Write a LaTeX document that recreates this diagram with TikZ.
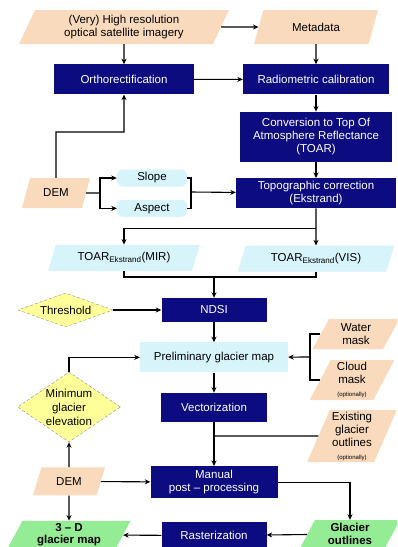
\documentclass[tikz,border=0pt]{standalone}
\usepackage{fontspec}
\setmainfont{Liberation Sans}
\usetikzlibrary{arrows.meta, positioning, shapes.geometric, calc}

\definecolor{procblue}{RGB}{12,12,128}
\definecolor{peach}{RGB}{250,218,188}
\definecolor{paleblue}{RGB}{214,244,250}
\definecolor{paleyellow}{RGB}{255,255,153}
\definecolor{palegreen}{RGB}{148,236,148}

\newcommand{\optnote}{{\fontsize{6}{7}\selectfont(optionally)}}

\begin{document}
\begin{tikzpicture}[
  x=1pt, y=-1pt,
  every node/.style={font=\fontsize{11.5}{13}\selectfont, align=center, inner sep=1pt},
  proc/.style={rectangle, fill=procblue, text=white},
  datain/.style={trapezium, trapezium left angle=67, trapezium right angle=113,
                 trapezium stretches=true, fill=peach},
  inter/.style={datain, fill=paleblue},
  interbox/.style={rectangle, fill=paleblue},
  result/.style={datain, fill=palegreen, font=\fontsize{11.5}{12.5}\selectfont\bfseries},
  deriv/.style={rectangle, rounded corners=6pt, fill=paleblue},
  param/.style={diamond, fill=paleyellow, draw=black!45, densely dashed, inner sep=0pt},
  arrow/.style={-{Stealth[length=5.5pt,width=5pt]}, line width=1.1pt},
  link/.style={line width=1.1pt},
]
\useasboundingbox (0,0) rectangle (397,547);
\clip (0,0) rectangle (397,547);

% ---- inputs and pre-processing ----
\node[datain, minimum width=210pt, minimum height=34pt] (imagery) at (124,27)
  {(Very) High resolution\\optical satellite imagery};
\node[datain, minimum width=124pt, minimum height=34pt] (meta) at (316,27) {Metadata};

\node[proc, minimum width=140pt, minimum height=30pt, below=20pt of imagery] (ortho) {Orthorectification};
\node[proc, minimum width=146pt, minimum height=30pt, below=20pt of meta] (radio) {Radiometric calibration};
\node[proc, minimum width=152pt, minimum height=50pt, below=17pt of radio]
  (toar) {Conversion to Top Of\\Atmosphere Reflectance\\(TOAR)};
\node[proc, minimum width=160pt, minimum height=30pt, below=16pt of toar]
  (topo) {Topographic correction\\(Ekstrand)};

\node[datain, minimum width=68pt, minimum height=30pt] (demA) at (56,193) {DEM};
\node[deriv, minimum width=70pt, minimum height=17pt] (slope) at (152,178) {Slope};
\node[deriv, minimum width=70pt, minimum height=17pt, below=13pt of slope] (aspect) {Aspect};

\node[inter, minimum width=152pt, minimum height=26pt, below=150pt of ortho] (mir) {TOAR\textsubscript{Ekstrand}(MIR)};
\node[inter, minimum width=157pt, minimum height=26pt, below=37pt of topo] (vis) {TOAR\textsubscript{Ekstrand}(VIS)};

% ---- glacier mapping ----
\node[proc, minimum width=105pt, minimum height=24pt] (ndsi) at (214,310) {NDSI};
\node[param, aspect=2.8, minimum width=95pt, minimum height=34pt, left=48pt of ndsi] (thresh) {Threshold};
\node[interbox, minimum width=148pt, minimum height=30pt, below=20pt of ndsi] (prelim) {Preliminary glacier map};
\node[proc, minimum width=106pt, minimum height=29pt, below=20pt of prelim] (vector) {Vectorization};
\node[proc, minimum width=127pt, minimum height=32pt, below=44pt of vector] (manual) {Manual\\post -- processing};
\node[proc, minimum width=105pt, minimum height=28pt, below=23pt of manual] (raster) {Rasterization};

\node[datain, minimum width=87pt, minimum height=30pt] (water) at (356,334) {Water\\mask};
\node[datain, minimum width=85pt, minimum height=40pt] (cloud) at (352,380) {Cloud\\mask\\\optnote};
\node[datain, minimum width=90pt, minimum height=52pt] (exist) at (352,436) {Existing\\glacier\\outlines\\\optnote};

\node[param, aspect=1.5, inner sep=-2pt, minimum width=103pt, minimum height=70pt,
      font=\fontsize{11.5}{14}\selectfont] (mingl) at (69,407) {Minimum\\glacier\\elevation};
\node[datain, minimum width=72pt, minimum height=28pt, below=25pt of mingl] (demB) {DEM};
\node[result, minimum width=124pt, minimum height=28pt, below=25pt of demB] (map3d) {3 -- D\\glacier map};
\node[result, minimum width=100pt, minimum height=28pt] (outlines) at (350,534) {Glacier\\outlines};

% ---- bends and joins ----
\coordinate (bendA) at (124,132);
\coordinate (forkA) at (100,193);
\coordinate (joinA) at (191,192);
\coordinate (splitA) at ($(topo.south)+(0,-20pt)$);
\coordinate (joinB) at (214,277);
\coordinate (joinC) at (310,357);
\coordinate (joinD) at (214,436);

% ---- connectors ----
\draw[arrow] (imagery) -- (meta);
\draw[arrow] (imagery) -- (ortho);
\draw[arrow] (meta) -- (radio);
\draw[arrow] (ortho) -- (radio);
\draw[arrow] (radio) -- (toar);
\draw[arrow] (toar) -- (topo);
\draw[arrow] (demA) |- (bendA) -- (ortho);
\draw[link] (demA) -- (forkA);
\draw[arrow] (forkA) |- (slope);
\draw[arrow] (forkA) |- (aspect);
\draw[link] (slope) -| (joinA);
\draw[link] (aspect) -| (joinA);
\draw[arrow] (joinA) -- (topo);
\draw[arrow] (topo) -- (vis);
\draw[arrow] (splitA) -| (mir);
\draw[link] (mir) |- (joinB);
\draw[link] (vis) |- (joinB);
\draw[arrow] (joinB) -- (ndsi);
\draw[arrow] (thresh) -- (ndsi);
\draw[arrow] (ndsi) -- (prelim);
\draw[link] (water) -| (joinC);
\draw[link] (cloud) -| (joinC);
\draw[arrow] (joinC) -- (prelim);
\draw[arrow] (mingl) |- (prelim);
\draw[arrow] (prelim) -- (vector);
\draw[arrow] (vector) -- (manual);
\draw[link] (exist) -- (joinD);
\draw[arrow] (demB) -- (manual);
\draw[arrow] (demB) -- (mingl);
\draw[arrow] (demB) -- (map3d);
\draw[arrow] (manual) -| (outlines);
\draw[arrow] (outlines) -- (raster);
\draw[arrow] (raster) -- (map3d);

\end{tikzpicture}
\end{document}
